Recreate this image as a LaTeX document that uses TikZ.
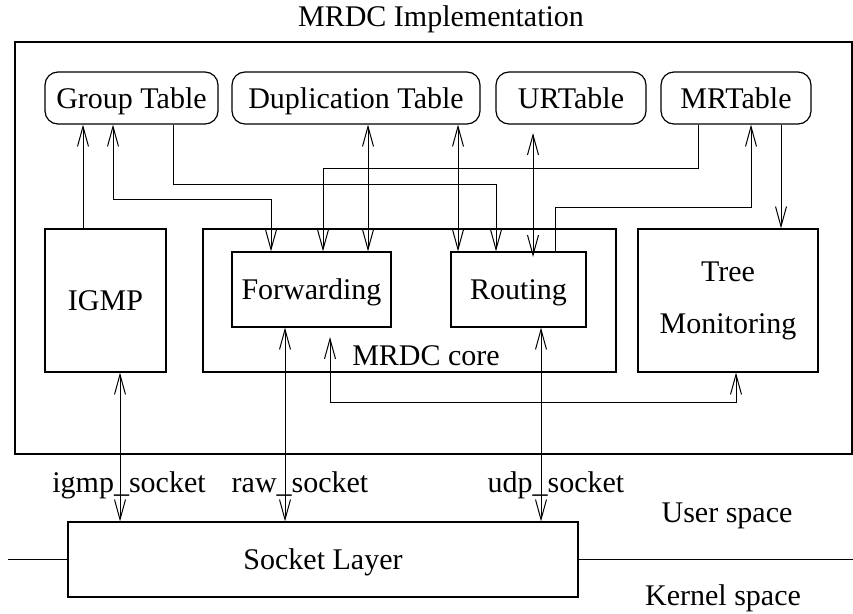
\documentclass[tikz,border=0pt]{standalone}
\usepackage{fontspec}
\setmainfont{Liberation Serif}
\usetikzlibrary{arrows.meta}
\begin{document}
\begin{tikzpicture}[x=1pt,y=-1pt,
  font=\fontsize{30}{36}\selectfont,
  >={Straight Barb[length=20pt,width=11pt]},
  blk/.style={draw, inner sep=0pt, line width=1.2pt},
  one/.style={text height=20pt, text depth=0pt},
  tbl/.style={blk, one, rounded corners=13pt, minimum height=52pt},
  conn/.style={line width=1pt},
  lbl/.style={anchor=base, inner sep=0pt}]
\useasboundingbox (0,0) rectangle (853,613);

% outer frame and title
\node[blk, minimum width=837pt, minimum height=412pt] (outer) at (433.5,248) {};
\node[lbl] (title) at (441,27) {MRDC Implementation};

% tables
\node[tbl, minimum width=173pt] (gt) at (131.5,98) {Group Table};
\node[tbl, minimum width=248pt] (dt) at (356,98) {Duplication Table};
\node[tbl, minimum width=150pt] (ur) at (571,98) {URTable};
\node[tbl, minimum width=150pt] (mr) at (736,98) {MRTable};

% middle blocks
\node[blk, one, minimum width=121pt, minimum height=143pt] (igmp) at (105.5,300.5) {IGMP};
\node[blk, minimum width=413pt, minimum height=143pt] (core) at (409.5,300.5) {};
\node[blk, one, minimum width=159pt, minimum height=75pt] (fwd) at (311.5,289.5) {Forwarding};
\node[blk, one, minimum width=135pt, minimum height=75pt] (rt) at (518.5,289.5) {Routing};
\node[blk, minimum width=180pt, minimum height=143pt, align=center,
      font=\fontsize{30}{52}\selectfont] (tm) at (728,300.5) {Tree\\Monitoring};
\node[lbl] (corelbl) at (426,365) {MRDC core};

% socket layer
\node[blk, one, minimum width=510pt, minimum height=75pt] (sock) at (323,559.5) {Socket Layer};
\coordinate (kl) at (8,559.5);
\coordinate (kr) at (853,559.5);
\draw[conn] (kl) -- (sock.west);
\draw[conn] (sock.east) -- (kr);

\node[lbl] (us) at (727,522) {User space};
\node[lbl] (ks) at (723,605) {Kernel space};

\node[lbl] (l1) at (129,492) {igmp\_socket};
\node[lbl] (l2) at (300,492) {raw\_socket};
\node[lbl] (l3) at (556,492) {udp\_socket};

% connectors among tables and blocks
\draw[conn,->] (83,0 |- igmp.north) -- (83,0 |- gt.south);
\draw[conn,<->] (113,0 |- gt.south) -- (113,199) -| (271,0 |- fwd.north);
\draw[conn,->] (173,0 |- gt.south) -- (173,184) -| (496,0 |- rt.north);
\draw[conn,->] (698,0 |- mr.south) -- (698,168) -| (323,0 |- fwd.north);
\draw[conn,<->] (368,0 |- dt.south) -- (368,0 |- fwd.north);
\draw[conn,<->] (458,0 |- dt.south) -- (458,0 |- rt.north);
\coordinate (urb) at (533,133);
\coordinate (rtt) at (533,257);
\draw[conn,<->] (urb) -- (rtt);
\draw[conn,->] (555,0 |- rt.north) -- (555,207) -| (751,0 |- mr.south);
\draw[conn,->] (781,0 |- mr.south) -- (781,0 |- tm.north);

% connectors to socket layer
\draw[conn,<->] (120,0 |- igmp.south) -- (120,0 |- sock.north);
\draw[conn,<->] (285,0 |- fwd.south) -- (285,0 |- sock.north);
\draw[conn,<->] (541,0 |- rt.south) -- (541,0 |- sock.north);

% forwarding <-> tree monitoring
\coordinate (fm) at (330,337);
\draw[conn,<->] (fm) -- (330,402) -| (736,0 |- tm.south);
\end{tikzpicture}
\end{document}
